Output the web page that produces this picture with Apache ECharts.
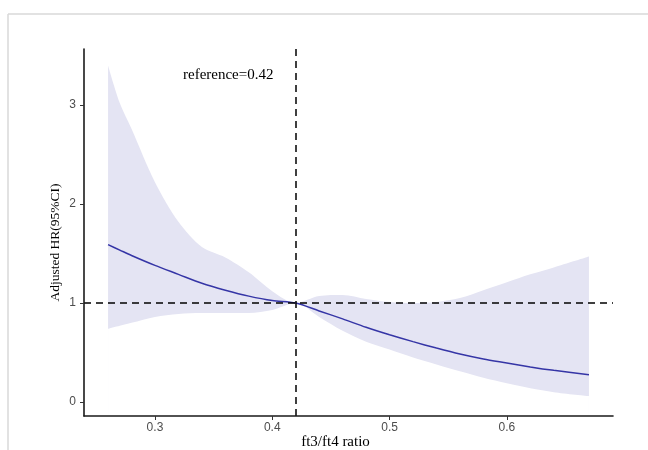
<!DOCTYPE html>
<html>
<head>
<meta charset="utf-8">
<script src="https://cdn.jsdelivr.net/npm/echarts@6/dist/echarts.min.js"></script>
<style>html,body{margin:0;padding:0;background:#fff;}#c{width:648px;height:450px;}</style>
</head>
<body>
<div id="c"></div>
<script>
// ---- data ----
const xs    = [0.26, 0.27, 0.28, 0.30, 0.32, 0.34, 0.36, 0.38, 0.40, 0.42, 0.44, 0.46, 0.48, 0.50, 0.52, 0.54, 0.56, 0.58, 0.60, 0.62, 0.64, 0.67];
const hr    = [1.59, 1.535, 1.48, 1.38, 1.29, 1.20, 1.13, 1.07, 1.025, 1.00, 0.92, 0.84, 0.755, 0.68, 0.61, 0.545, 0.485, 0.435, 0.395, 0.355, 0.32, 0.275];
const upper = [3.40, 3.02, 2.76, 2.22, 1.82, 1.565, 1.46, 1.31, 1.12, 1.00, 1.07, 1.08, 1.04, 1.01, 1.00, 1.01, 1.05, 1.13, 1.21, 1.29, 1.36, 1.47];
const lower = [0.74, 0.77, 0.80, 0.86, 0.89, 0.90, 0.90, 0.90, 0.93, 1.00, 0.86, 0.72, 0.61, 0.53, 0.45, 0.38, 0.31, 0.245, 0.19, 0.14, 0.10, 0.06];
const xTicks = [0.3, 0.4, 0.5, 0.6];
const yTicks = [0, 1, 2, 3];
const refX = 0.42;
const refY = 1;
const xTitle = 'ft3/ft4 ratio';
const yTitle = 'Adjusted HR(95%CI)';
const refLabel = 'reference=0.42';
const pLabel = '0.855';

const chart = echarts.init(document.getElementById('c'), null, {renderer: 'canvas'});
const serif = '"Liberation Serif", "Times New Roman", serif';
const sans = '"Liberation Sans", Arial, sans-serif';

const upperData = xs.map((x, i) => [x, upper[i]]);
const lowerData = xs.map((x, i) => [x, lower[i]]);
const hrData = xs.map((x, i) => [x, hr[i]]);

chart.setOption({
  animation: false,
  backgroundColor: '#fff',
  grid: {left: 84, right: 35, top: 49, bottom: 34, containLabel: false, outerBoundsMode: 'none'},
  xAxis: {
    type: 'value', min: 0.2395, max: 0.6905, z: 10,
    name: xTitle, nameLocation: 'middle', nameGap: 19, nameMoveOverlap: false,
    nameTextStyle: {fontFamily: serif, fontSize: 15, color: '#000', padding: [0, 26, 0, 0]},
    axisLine: {onZero: false, lineStyle: {color: '#1a1a1a', width: 1.6}},
    axisTick: {customValues: xTicks, length: 4, lineStyle: {color: '#333', width: 1}},
    axisLabel: {customValues: xTicks, fontFamily: sans, fontSize: 12, color: '#4d4d4d', margin: 6,
      formatter: v => String(v)},
    splitLine: {show: false}
  },
  yAxis: {
    type: 'value', min: -0.141, max: 3.566, z: 10,
    name: yTitle, nameLocation: 'middle', nameGap: 22, nameMoveOverlap: false,
    nameTextStyle: {fontFamily: serif, fontSize: 13.5, color: '#000', padding: [0, 20, 0, 0]},
    axisLine: {onZero: false, lineStyle: {color: '#1a1a1a', width: 1.6}},
    axisTick: {customValues: yTicks, length: 4, lineStyle: {color: '#333', width: 1}},
    axisLabel: {customValues: yTicks, fontFamily: sans, fontSize: 12, color: '#4d4d4d', margin: 8},
    splitLine: {show: false}
  },
  series: [
    {
      type: 'line', name: 'upper', data: upperData, smooth: 0.3,
      showSymbol: false, lineStyle: {opacity: 0}, silent: true,
      areaStyle: {color: '#e4e4f3', opacity: 1, origin: 'start'}, z: 1
    },
    {
      type: 'line', name: 'lower', data: lowerData, smooth: 0.3,
      showSymbol: false, lineStyle: {opacity: 0}, silent: true,
      areaStyle: {color: '#ffffff', opacity: 1, origin: 'start'}, z: 2
    },
    {
      type: 'line', name: 'HR', data: hrData, smooth: 0.3, showSymbol: false,
      lineStyle: {color: '#3535a6', width: 1.5}, z: 3,
      markLine: {
        silent: true, symbol: 'none',
        lineStyle: {color: '#000', type: [7, 5], width: 1.5},
        label: {show: false},
        data: [{yAxis: refY}, {xAxis: refX}]
      }
    }
  ],
  graphic: [
    {type: 'line', shape: {x1: 8, y1: 14, x2: 648, y2: 14}, style: {stroke: '#d8d8d8', lineWidth: 1.5}, silent: true},
    {type: 'line', shape: {x1: 8, y1: 14, x2: 8, y2: 450}, style: {stroke: '#d8d8d8', lineWidth: 1.5}, silent: true},
    {type: 'text', left: 183, top: 68, silent: true,
      style: {text: refLabel, font: '15px ' + serif, fill: '#000'}},
    {type: 'text', left: 316, top: 378, silent: true,
      style: {text: 'Non-linear {i|P} = ' + pLabel, font: '15px ' + serif, fill: '#000',
        rich: {i: {fontStyle: 'italic', fontFamily: serif, fontSize: 15, fill: '#000'}}}}
  ]
});
</script>
</body>
</html>
